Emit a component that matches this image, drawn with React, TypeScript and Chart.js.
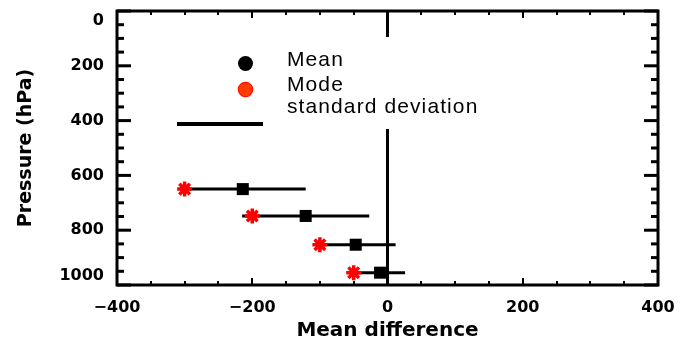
import React, { useEffect, useRef } from 'react';
import { Chart, registerables } from 'chart.js';

Chart.register(...registerables);

// ---- data ----
const pressures = [650, 748, 853, 955];
const meanDiff = [-214, -121, -47, -11];
const stdDev = [93, 94, 59, 37];
const modeDiff = [-300, -200, -100, -50];

const xTickValues = [-400, -200, 0, 200, 400];
const xTickLabels = ['\u2212400', '\u2212200', '0', '200', '400'];
const yTickValues = [0, 200, 400, 600, 800, 1000];
const yTickLabels = ['0', '200', '400', '600', '800', '1000'];
const legendLabels = ['Mean', 'Mode', 'standard deviation'];

const X_MIN = -400;
const X_MAX = 400;
const Y_MIN = 0;
const Y_MAX = 1000;
const MAJOR_STEP = 200;
const MINOR_STEP = 50;

const frameTicksPlugin = {
  id: 'frameTicks',
  beforeDatasetsDraw(chart: any) {
    const { ctx, chartArea: a, scales } = chart;
    const xs = scales.x;
    const ys = scales.y;
    ctx.save();
    ctx.strokeStyle = '#000';
    ctx.lineCap = 'butt';
    const seg = (x1: number, y1: number, x2: number, y2: number) => {
      ctx.beginPath();
      ctx.moveTo(x1, y1);
      ctx.lineTo(x2, y2);
      ctx.stroke();
    };
    ctx.lineWidth = 2;
    for (let v = X_MIN; v <= X_MAX; v += MINOR_STEP) {
      const px = Math.round(xs.getPixelForValue(v));
      const len = v % MAJOR_STEP === 0 ? 7 : 4;
      seg(px, a.bottom, px, a.bottom - len);
      seg(px, a.top, px, a.top + len);
    }
    ctx.lineWidth = 3;
    for (let v = Y_MIN; v <= Y_MAX; v += MINOR_STEP) {
      const py = ys.getPixelForValue(v);
      const len = v % MAJOR_STEP === 0 ? 14 : 7;
      seg(a.left, py, a.left + len, py);
      seg(a.right, py, a.right - len, py);
    }
    ctx.lineWidth = 3;
    ctx.strokeRect(a.left, a.top, a.right - a.left, a.bottom - a.top);
    ctx.restore();
  },
};

const legendPlugin = {
  id: 'boxLegend',
  afterDatasetsDraw(chart: any) {
    const { ctx } = chart;
    ctx.save();
    ctx.fillStyle = '#fff';
    ctx.fillRect(168, 37, 322, 92);
    // symbols
    ctx.beginPath();
    ctx.arc(245.5, 63.5, 7.5, 0, Math.PI * 2);
    ctx.fillStyle = '#000';
    ctx.fill();
    ctx.beginPath();
    ctx.arc(245.5, 89.5, 7.2, 0, Math.PI * 2);
    ctx.fillStyle = '#ff3c00';
    ctx.fill();
    ctx.lineWidth = 1.2;
    ctx.strokeStyle = '#ff1000';
    ctx.stroke();
    ctx.beginPath();
    ctx.lineWidth = 4;
    ctx.strokeStyle = '#000';
    ctx.moveTo(177, 124);
    ctx.lineTo(263, 124);
    ctx.stroke();
    // texts
    ctx.fillStyle = '#000';
    ctx.font = '21px "Liberation Sans", Arial, sans-serif';
    try {
      (ctx as any).letterSpacing = '1.1px';
    } catch (e) {}
    ctx.textAlign = 'left';
    ctx.textBaseline = 'alphabetic';
    const baselines = [66, 91, 112.5];
    legendLabels.forEach((t, i) => ctx.fillText(t, 287, baselines[i]));
    ctx.restore();
  },
};

export default function App() {
  const ref = useRef<HTMLCanvasElement | null>(null);

  useEffect(() => {
    if (!ref.current) return;
    const errorBarSets = pressures.map((p, i) => ({
      type: 'line' as const,
      data: [
        { x: meanDiff[i] - stdDev[i], y: p },
        { x: meanDiff[i] + stdDev[i], y: p },
      ],
      borderColor: '#000',
      borderWidth: 3,
      pointRadius: 0,
      fill: false,
      order: 3,
    }));
    const chart = new Chart(ref.current, {
      type: 'scatter',
      data: {
        datasets: [
          {
            type: 'scatter',
            label: legendLabels[0],
            data: pressures.map((p, i) => ({ x: meanDiff[i], y: p })),
            pointStyle: 'rect',
            pointRadius: 8.5,
            backgroundColor: '#000',
            borderWidth: 0,
            order: 1,
          },
          {
            type: 'scatter',
            label: legendLabels[1],
            data: pressures.map((p, i) => ({ x: modeDiff[i], y: p })),
            pointStyle: 'star',
            pointRadius: 7.5,
            borderColor: '#ff0000',
            backgroundColor: '#ff0000',
            borderWidth: 3.5,
            order: 2,
          },
          ...errorBarSets,
          {
            type: 'line',
            data: [
              { x: 0, y: Y_MIN },
              { x: 0, y: Y_MAX },
            ],
            borderColor: '#000',
            borderWidth: 3,
            pointRadius: 0,
            fill: false,
            order: 4,
          },
        ] as any,
      },
      options: {
        animation: false,
        responsive: true,
        maintainAspectRatio: false,
        events: [],
        layout: { padding: { left: 0, top: 11, right: 22, bottom: 0 } },
        plugins: { legend: { display: false }, tooltip: { enabled: false } },
        scales: {
          x: {
            type: 'linear',
            min: X_MIN,
            max: X_MAX,
            grid: { display: false, drawTicks: false },
            border: { display: false },
            ticks: {
              stepSize: MAJOR_STEP,
              autoSkip: false,
              maxRotation: 0,
              padding: 13,
              color: '#000',
              font: { family: '"DejaVu Sans"', size: 16, weight: 'bold' },
              callback: (v: any) => {
                const k = xTickValues.indexOf(Number(v));
                return k >= 0 ? xTickLabels[k] : '';
              },
            },
            title: {
              display: true,
              text: 'Mean difference',
              color: '#000',
              font: { family: '"DejaVu Sans"', size: 20, weight: 'bold' },
              padding: { top: 0, bottom: 1 },
            },
            afterFit: (s: any) => {
              s.height = 59;
              s.paddingLeft = 0;
              s.paddingRight = 0;
            },
          },
          y: {
            type: 'linear',
            min: Y_MIN,
            max: Y_MAX,
            reverse: true,
            grid: { display: false, drawTicks: false },
            border: { display: false },
            ticks: {
              stepSize: MAJOR_STEP,
              autoSkip: false,
              padding: 13,
              color: '#000',
              font: { family: '"DejaVu Sans"', size: 16, weight: 'bold' },
              callback: (v: any) => {
                const k = yTickValues.indexOf(Number(v));
                if (k < 0) return '';
                const t = yTickLabels[k];
                if (k === 0) return ['', t];
                if (k === yTickLabels.length - 1) return [t, ''];
                return t;
              },
            },
            title: {
              display: true,
              text: 'Pressure (hPa)',
              color: '#000',
              font: { family: '"DejaVu Sans"', size: 19, weight: 'bold' },
              padding: { top: 15, bottom: 0 },
            },
            afterFit: (s: any) => {
              s.width = 117;
              s.paddingTop = 0;
              s.paddingBottom = 0;
            },
          },
        },
      },
      plugins: [frameTicksPlugin, legendPlugin],
    });
    return () => chart.destroy();
  }, []);

  return (
    <div style={{ position: 'absolute', left: 0, top: 0, width: 680, height: 344, background: '#fff' }}>
      <canvas ref={ref} />
    </div>
  );
}
